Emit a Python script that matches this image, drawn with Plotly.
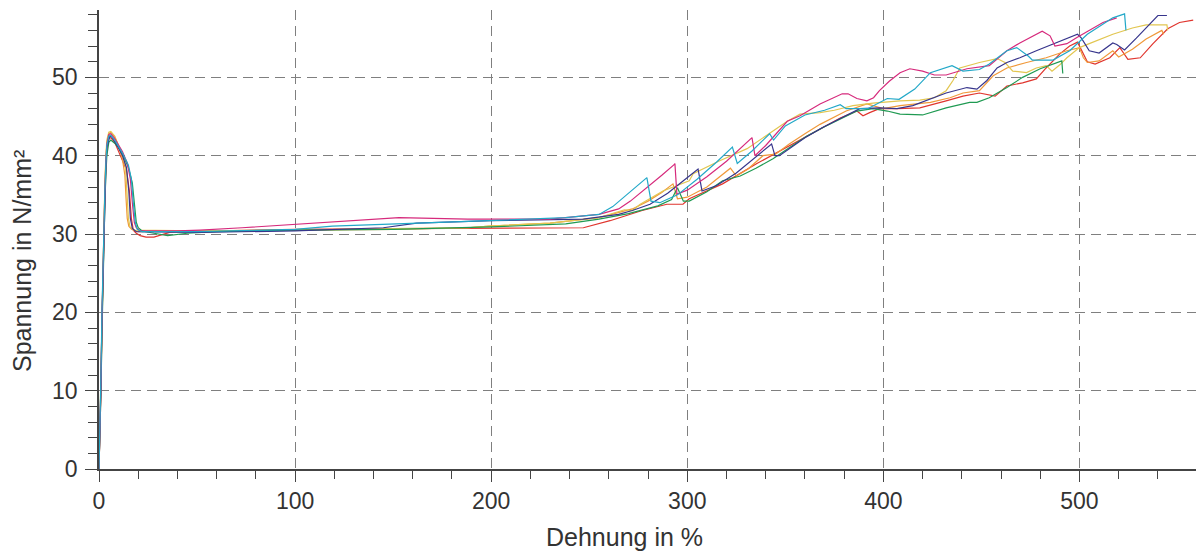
import plotly.graph_objects as go

# ---------------- data ----------------
red_x = [0, 0.5, 1, 1.5, 2, 2.5, 3, 3.5, 4, 5, 6, 8, 10, 12, 14, 15.5, 16.5, 17.5, 19, 21, 24, 28, 32, 36, 45, 60, 80,
         100, 150, 200, 247, 260.6, 277, 289.6, 297.8, 301, 318, 335.5, 352.4, 369, 378, 386.5, 389.6, 393, 398, 407,
         418.6, 432, 440.6, 449, 457, 463, 471, 478, 483, 490, 495, 499, 501, 504, 508, 515.5, 520.6, 524.7, 531,
         537.5, 545, 551, 558]
red_y = [0, 4, 10, 18, 25, 30, 35, 38.5, 40.8, 42.2, 42.3, 41.7, 40.6, 39.5, 38.2, 35.5, 32, 30.5, 30.1, 29.8, 29.6,
         29.6, 29.9, 30.2, 30.3, 30.4, 30.5, 30.6, 30.7, 30.8, 30.8, 31.7, 33, 33.8, 33.8, 34.5, 36.4, 39, 41.3, 43.6,
         44.8, 45.7, 45.1, 45.5, 46, 46, 46.1, 47, 47.6, 48, 47.6, 48.9, 49.3, 49.8, 51.2, 53, 54, 54.5, 53.5, 52,
         51.7, 52.5, 53.8, 52.3, 52.5, 54.3, 56.2, 57, 57.3]

orange_x = [0, 0.5, 1, 1.5, 2, 2.5, 3, 3.5, 4, 5, 6, 8, 10, 12, 13.2, 13.8, 14.4, 15.2, 16.6, 20, 50, 100, 150, 188,
            199, 230, 255, 272, 280, 287, 292.7, 295, 300, 310, 322, 325, 331, 338.6, 345, 352, 360, 367.7, 381,
            391.6, 400, 408.5, 424, 434, 440.6, 449, 456, 463, 473, 483, 493.6, 500, 502, 504, 510, 517, 520, 527,
            534, 542, 543]
orange_y = [0, 5, 11, 19, 26, 31, 36, 39.5, 41.6, 42.8, 43, 42.4, 41.2, 39.5, 37.5, 34.5, 32, 31, 30.6, 30.3, 30.4,
            30.5, 30.6, 30.8, 31, 31.4, 32.1, 33.2, 34.2, 35.3, 36.4, 34.5, 34.7, 36, 38.4, 37.4, 38.3, 40, 40.2,
            41.5, 42.8, 44, 45.7, 46.6, 46, 46.4, 46.8, 47.4, 48, 48.3, 50.2, 51.2, 51.9, 52.5, 53.4, 53.8, 52.5,
            51.9, 52.1, 53.4, 52.6, 53.6, 54.9, 56, 55.5]

yellow_x = [0, 0.5, 1, 1.5, 2, 2.5, 3, 3.5, 4, 5, 6, 8, 10, 12, 13.5, 14.3, 15, 15.8, 18, 50, 100, 150, 188, 199, 230,
            255, 263, 268, 272, 276, 287.6, 301, 303, 316, 330.5, 340, 351, 357.5, 367.7, 375, 384.5, 394.7, 408.5,
            418.6, 426, 432, 435.5, 439, 449, 458, 462, 466, 473, 478, 483, 486, 490, 493.6, 500, 505, 517, 527,
            534, 544.6, 545]
yellow_y = [0, 6, 13, 21, 27, 32, 36.5, 40, 42, 43, 43.1, 42.5, 41.3, 40, 38.6, 35, 32, 30.9, 30.5, 30.4, 30.5, 30.7,
            30.8, 31, 31.4, 32.1, 32.7, 33.1, 33, 33.8, 35.5, 36.8, 37.7, 39.3, 40.9, 42.5, 44.4, 45.3, 45.5, 45.8,
            46.4, 46.7, 47, 47.1, 47.4, 48.3, 49.6, 51.2, 51.9, 52.4, 51.9, 50.8, 50.6, 51.2, 51.5, 50.8, 51.6,
            52.5, 53.8, 54.3, 55.5, 56.3, 56.7, 56.7, 56]

green_x = [0, 0.5, 1, 1.5, 2, 2.5, 3, 3.5, 4, 5, 6, 8, 10, 12, 15, 17, 18, 19, 20, 22, 28, 35, 45, 60, 100, 150, 200,
           238, 255, 270, 285, 292, 295, 298, 301, 310, 318, 327, 335, 343.7, 352, 361, 370, 378, 386.5, 394.7, 402,
           408.5, 420, 432, 444, 447.7, 454, 463, 471, 480, 486.5, 491, 491.5]
green_y = [0, 4, 10, 17, 24, 29, 34, 37.5, 40, 41.7, 42, 41.6, 41, 40.2, 38.5, 36.5, 34, 31.5, 30.8, 30.4, 30.1, 29.8,
           30.1, 30.3, 30.5, 30.6, 30.9, 31.3, 31.9, 32.6, 33.6, 34.4, 35.9, 34.2, 34.2, 35.4, 36.8, 37.4, 38.4,
           39.6, 41, 42.5, 43.7, 44.7, 45.7, 46, 45.7, 45.3, 45.2, 46.1, 46.8, 46.8, 47.4, 48.7, 50, 51.1, 51.7,
           52.1, 50.5]

cyan_x = [0, 0.5, 1, 1.5, 2, 2.5, 3, 3.5, 4, 5, 6, 8, 10, 12, 15, 16.5, 17.5, 18.5, 19.5, 22, 50, 100, 119, 170, 199,
          238, 255, 262, 268, 274, 279.4, 281.5, 286, 295, 305, 315, 323, 325.5, 333, 342, 344, 350, 360, 370, 378,
          381, 392, 402, 408, 416, 424, 435, 440.6, 449, 454, 463, 468, 474, 476, 486.5, 495, 504, 517, 523, 523.7]
cyan_y = [0, 5, 12, 20, 26, 31, 35.5, 39, 41.3, 42.5, 42.6, 42, 41.2, 40.3, 38.8, 37, 34, 31.5, 30.6, 30.3, 30.3,
          30.6, 31, 31.4, 31.7, 32.1, 32.5, 33.5, 34.8, 36, 37.2, 34.2, 34, 35, 37, 39.2, 41.1, 39, 40.6, 42.8, 42,
          43.8, 45.2, 45.8, 46.5, 46, 46, 47.3, 47.2, 48.5, 50.6, 51.5, 50.8, 51, 51.7, 53.4, 53.8, 52.7, 52.2,
          52.2, 53.4, 55.5, 57.6, 58.1, 56]

navy_x = [0, 0.5, 1, 1.5, 2, 2.5, 3, 3.5, 4, 5.5, 6.5, 8, 10, 12, 14, 15.2, 16, 17, 19, 50, 100, 145, 162, 200, 247,
          265, 272, 281, 290, 298, 305.5, 307.5, 315, 325, 335, 343, 344.7, 347, 360, 369, 380, 388, 398, 407, 415,
          425, 432, 442.6, 447.7, 452.8, 458, 463, 469.6, 478, 488.5, 499, 501, 505, 510, 517, 519, 523, 529, 536,
          540, 544.6]
navy_y = [0, 5, 11, 19, 25, 30, 35, 38.5, 41, 42.5, 42.4, 41.8, 41, 40, 38.5, 35.5, 32, 30.7, 30.3, 30.2, 30.4, 30.8,
          31.4, 31.7, 31.9, 32.5, 33, 33.8, 35.2, 36.8, 38.3, 35.5, 36.2, 37.8, 39.8, 41.5, 40, 40, 42.3, 43.6, 45,
          46, 46.1, 46, 46.4, 47.4, 48, 48.7, 48.5, 49.6, 51.2, 51.9, 52.5, 53.4, 54.4, 55.5, 55, 53.4, 53.1, 54.4,
          54.2, 53.5, 55, 56.8, 57.9, 57.9]

magenta_x = [0, 0.5, 1, 1.5, 2, 2.5, 3, 3.5, 4, 5, 6, 8, 10, 12, 14.5, 16, 17, 18, 19, 21, 40, 51.5, 73, 102, 128,
             153, 188, 200, 230, 255, 265, 271, 280, 287, 293, 293.7, 294.7, 300, 310, 320, 333, 334.5, 340, 351,
             357.5, 367.7, 379, 382, 386.5, 391.6, 395, 398, 403, 408.5, 413.5, 420, 426, 432, 442.6, 454, 463,
             469.6, 481, 485, 487.5, 493.6, 498.7, 505, 512, 519]
magenta_y = [0, 5, 11, 19, 26, 31, 35.5, 39.3, 41.5, 42.7, 42.8, 42.2, 41.4, 40.5, 39, 37, 34, 31.5, 30.8, 30.4,
             30.4, 30.5, 30.8, 31.3, 31.7, 32.1, 31.9, 31.9, 31.9, 32.5, 33.2, 34.2, 36, 37.5, 38.8, 39, 35.1, 35.6,
             37.3, 39.3, 42.3, 40, 41.3, 44.4, 45.1, 46.6, 47.9, 47.9, 47.3, 47, 47.4, 48.3, 49.5, 50.6, 51.1, 50.8,
             50.3, 50.3, 51.1, 51.5, 53.4, 54.4, 55.9, 55.3, 54, 54.3, 55.1, 56, 57, 57.6]

series = [
    ("red", red_x, red_y, "#e0352e"),
    ("orange", orange_x, orange_y, "#f0993a"),
    ("yellow", yellow_x, yellow_y, "#e2c650"),
    ("green", green_x, green_y, "#1f9a52"),
    ("navy", navy_x, navy_y, "#37358c"),
    ("magenta", magenta_x, magenta_y, "#d62a7c"),
    ("cyan", cyan_x, cyan_y, "#22a8c8"),
]

x_ticks = [0, 100, 200, 300, 400, 500]
y_ticks = [0, 10, 20, 30, 40, 50]
x_title = "Dehnung in %"
y_title = "Spannung in N/mm²"

FONT = "Arial, Liberation Sans, sans-serif"
AX = "#444444"
TXT = "#333333"
GRID = "#7f7f7f"

fig = go.Figure()
for name, xs, ys, col in series:
    fig.add_trace(go.Scatter(x=xs, y=ys, mode="lines", name=name,
                             line=dict(color=col, width=1.2), showlegend=False))

common_x = dict(range=[0, 563], tickvals=x_ticks, zeroline=False)
common_y = dict(range=[0, 58.6], tickvals=y_ticks, zeroline=False)

# the page adds an 8px body margin, so the figure is 8px smaller on each axis
fig.update_layout(
    width=1196, height=544,
    margin=dict(l=91, r=1, t=2, b=83, autoexpand=False),
    paper_bgcolor="white", plot_bgcolor="white",
    font=dict(family=FONT, size=23, color=TXT),
    xaxis=dict(**common_x, showline=True, linecolor=AX, linewidth=1.5,
               ticks="outside", ticklen=11, tickwidth=1.2, tickcolor=AX,
               showgrid=True, gridcolor=GRID, gridwidth=1.3, griddash="10px,6px",
               minor=dict(dtick=20, tick0=0, ticks="outside", ticklen=8, tickwidth=1, tickcolor=AX, showgrid=False),
               tickfont=dict(size=23, color=TXT), automargin=False),
    yaxis=dict(**common_y, showline=True, linecolor=AX, linewidth=1.5,
               ticks="outside", ticklen=12, tickwidth=1.2, tickcolor=AX,
               showgrid=True, gridcolor=GRID, gridwidth=1.3, griddash="10px,6px",
               minor=dict(dtick=2, tick0=0, ticks="outside", ticklen=9, tickwidth=1, tickcolor=AX, showgrid=False),
               tickfont=dict(size=23, color=TXT), ticklabelstandoff=3, automargin=False),
    xaxis2=dict(**common_x, overlaying="x", matches="x", anchor="y", side="bottom",
                showline=False, showgrid=False, showticklabels=False,
                ticks="inside", ticklen=8, tickwidth=1.2, tickcolor=AX,
                minor=dict(dtick=20, tick0=0, ticks="inside", ticklen=8, tickwidth=1, tickcolor=AX, showgrid=False)),
    yaxis2=dict(**common_y, overlaying="y", matches="y", anchor="x", side="left",
                showline=False, showgrid=False, showticklabels=False,
                ticks="inside", ticklen=8, tickwidth=1.2, tickcolor=AX,
                minor=dict(dtick=2, tick0=0, ticks="inside", ticklen=8, tickwidth=1, tickcolor=AX, showgrid=False)),
    annotations=[
        dict(text=x_title, xref="paper", yref="paper", x=0.4764, y=-0.148,
             xanchor="center", yanchor="middle", showarrow=False, font=dict(size=25, color=TXT)),
        dict(text=y_title, xref="paper", yref="paper", x=-0.0698, y=0.453, textangle=-90,
             xanchor="center", yanchor="middle", showarrow=False, font=dict(size=25, color=TXT)),
    ],
)

fig.write_html("out.html")
